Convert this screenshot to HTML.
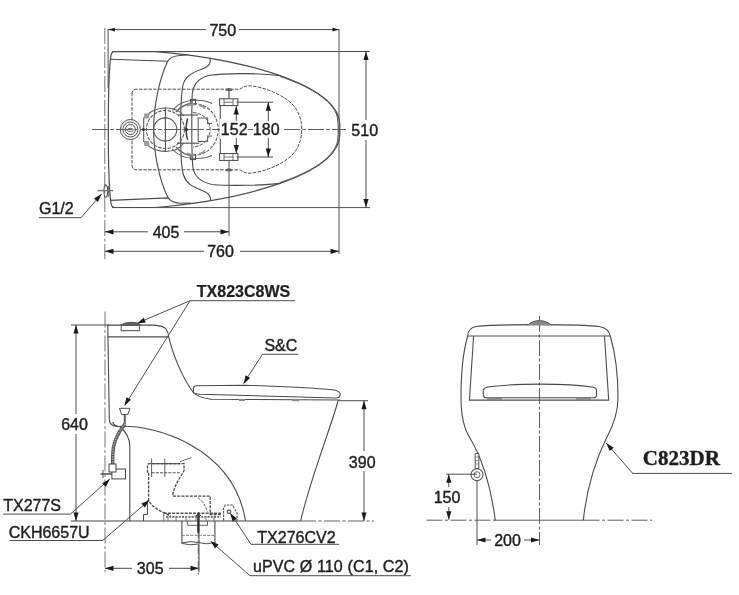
<!DOCTYPE html>
<html><head><meta charset="utf-8"><style>
html,body{margin:0;padding:0;background:#fff;width:739px;height:595px;overflow:hidden}
svg{display:block;will-change:transform}
</style></head><body>
<svg width="739" height="595" viewBox="0 0 739 595">
<rect width="739" height="595" fill="#fff"/>
<line x1="104.8" y1="28" x2="104.8" y2="259" stroke="#777" stroke-width="1" stroke-dasharray="16,2.5,3,2.5"/>
<line x1="92" y1="129.5" x2="346" y2="129.5" stroke="#5e5e5e" stroke-width="1" stroke-dasharray="16,2.5,3,2.5"/>
<path d="M114,207.5 Q110.7,206.5 110.7,200.5 C108.5,185 108.3,170 108.3,129.5 C108.3,89 108.5,74 110.7,57 Q111.5,51.6 114,51.6 L155,51.6 C246.7,59.3 346,86 339.6,129.5 C346,173 246.7,199.7 155,207.5 Z" stroke="#4a4a4a" stroke-width="1.2" fill="none" />
<path d="M280.2,76.6 C305,84.5 333,99 337.3,117 Q338.3,123 338.2,129.5 Q338.3,136 337.3,142 C333,160 305,174.5 280.2,182.4" stroke="#5e5e5e" stroke-width="1" fill="none" />
<path d="M110.6,59.3 L167.7,61.2 Q170.5,56.5 178,55.8 L188,54.8" stroke="#4a4a4a" stroke-width="1.1" fill="none" />
<path d="M110.6,200.4 L168.2,197.9 Q171,202.5 180,203.3 L191,203" stroke="#4a4a4a" stroke-width="1.1" fill="none" />
<path d="M167.7,61.2 C159,79 153.6,108 153.6,129.5 C153.6,151 159,180 168.2,197.9" stroke="#4a4a4a" stroke-width="1.1" fill="none" />
<path d="M209.8,58.5 C211.5,62 210,66.5 201.1,69.4 C193,72 185,76 183,85 C181,95 180.6,115 180.6,129.5 C180.6,150 181,168 183.5,175 C186,183 192,186.5 201,190 C209,193 210.5,196 210.9,200.5" stroke="#4a4a4a" stroke-width="1.1" fill="none" />
<path d="M281,75.6 C262,73.5 228,72.5 210,75.3 C199,77.5 193.5,83 192.2,94 C191.8,105 191.8,120 191.8,129.5 C191.8,145 192,160 193,168 C194.5,177 201,182 212,184.5 C230,186 262,185.5 281,183.4" stroke="#4a4a4a" stroke-width="1.1" fill="none" />
<path d="M132,94 Q132,89.2 137,89.2 L240,89.2 C243,87 246,85.5 250,85.8 C265,87 287,96 295.5,108 C301,117 301.7,123 301.7,129.5 C301.7,136 301,142 295.5,151 C287,163 265,172 250,173.2 C246,173.5 243,172 240,169.8 L137,169.8 Q132,169.8 132,165 Z" stroke="#4e4e4e" stroke-width="1" fill="none" stroke-dasharray="3.5,1.3"/>
<circle cx="130.4" cy="129.5" r="10" stroke="#4a4a4a" stroke-width="1" fill="#fff"/>
<circle cx="130.4" cy="129.5" r="7.5" stroke="#4a4a4a" stroke-width="1" fill="none"/>
<circle cx="130.4" cy="129.5" r="5" stroke="#4a4a4a" stroke-width="1" fill="none"/>
<ellipse cx="130.4" cy="130.0" rx="3" ry="1.6" stroke="#4a4a4a" stroke-width="0.8" fill="none"/>
<line x1="92" y1="129.5" x2="220" y2="129.5" stroke="#5e5e5e" stroke-width="1" stroke-dasharray="16,2.5,3,2.5"/>
<path d="M143.7,118 L143.7,141.5 L150,147 Q157,151.4 165.4,151.4 Q178,151.4 184,143 M143.7,118 L150,112.5 Q157,108 165.4,108 Q178,108 184,116" stroke="#5e5e5e" stroke-width="1.1" fill="none" />
<rect x="144.2" y="113.5" width="5" height="5" fill="#999"/>
<rect x="144.2" y="141" width="5" height="5" fill="#999"/>
<circle cx="165.4" cy="129.5" r="19" stroke="#5a5a5a" stroke-width="1.1" fill="none" stroke-dasharray="3.5,1.3"/>
<circle cx="165.2" cy="129.5" r="11.6" stroke="#5a5a5a" stroke-width="1.1" fill="none"/>
<line x1="165.4" y1="107.6" x2="165.4" y2="151.4" stroke="#4e4e4e" stroke-width="1.1" />
<circle cx="143.4" cy="129.5" r="1.5" fill="#333"/>
<path d="M172.4,110.3 C178,103 186,100.3 195.9,100.3 C203,100.3 208,101.5 212,103.5 M172.4,149 C178,156 186,158.5 195.9,158.5 C203,158.5 208,157.5 212,155.5" stroke="#5e5e5e" stroke-width="1.1" fill="none" />
<path d="M193.5,103.5 C208,104 218,115 218.2,129.7 C218,144 208,155 193.5,155.5" stroke="#5e5e5e" stroke-width="1.1" fill="none" stroke-dasharray="3.5,1.3"/>
<path d="M193,112.5 C203,113 210,120 210.2,129.7 C210,139 203,146.5 193,147" stroke="#5a5a5a" stroke-width="1" fill="none" stroke-dasharray="3.5,1.3"/>
<path d="M198.2,117.3 L198.2,142 M198.2,118 L207.6,118 L207.6,123.5 L212,123.5 M198.2,141.5 L207.6,141.5 L207.6,136 L212,136" stroke="#5e5e5e" stroke-width="1.1" fill="none" />
<path d="M187.6,118.5 Q184.5,129.7 187.6,139.7" stroke="#444" stroke-width="1.6" fill="none" />
<circle cx="186.5" cy="129.5" r="1.6" fill="#333"/>
<line x1="178.2" y1="115" x2="198.2" y2="115" stroke="#4e4e4e" stroke-width="1.1" />
<line x1="177" y1="143.2" x2="199.4" y2="143.2" stroke="#4e4e4e" stroke-width="1.1" />
<line x1="220.3" y1="103" x2="220.3" y2="156" stroke="#4e4e4e" stroke-width="1.1" />
<rect x="190.5" y="99.5" width="5" height="5" fill="none" stroke="#555" stroke-width="1.2"/>
<rect x="190.5" y="154.5" width="5" height="5" fill="none" stroke="#555" stroke-width="1.2"/>
<path d="M176,112 Q183,104 193,103 M176,147 Q183,155 193,156" stroke="#666" stroke-width="1.3" fill="none" />
<path d="M187,106 Q191,103.5 195,104.5 M199,105 Q203,106 205,108.5 M187,153 Q191,155.5 195,154.5 M199,154 Q203,153 205,150.5" stroke="#999" stroke-width="2" fill="none" />
<rect x="219.6" y="98.8" width="18.3" height="6.8" stroke="#444" stroke-width="1" fill="#fff"/>
<line x1="224" y1="98.8" x2="224" y2="105.6" stroke="#4e4e4e" stroke-width="0.8" />
<line x1="233" y1="98.8" x2="233" y2="105.6" stroke="#4e4e4e" stroke-width="0.8" />
<line x1="224" y1="102.2" x2="233" y2="102.2" stroke="#4e4e4e" stroke-width="0.8" />
<rect x="219.6" y="153.6" width="18.3" height="6.8" stroke="#444" stroke-width="1" fill="#fff"/>
<line x1="224" y1="153.6" x2="224" y2="160.4" stroke="#4e4e4e" stroke-width="0.8" />
<line x1="233" y1="153.6" x2="233" y2="160.4" stroke="#4e4e4e" stroke-width="0.8" />
<line x1="224" y1="157.0" x2="233" y2="157.0" stroke="#4e4e4e" stroke-width="0.8" />
<line x1="229" y1="88" x2="229" y2="98.8" stroke="#5e5e5e" stroke-width="1.3" />
<path d="M226.2,89.3 Q229,88 231.8,89.3 L231.8,90.5 L226.2,90.5 Z" stroke="#5e5e5e" stroke-width="1" fill="#666" />
<line x1="229" y1="160.4" x2="229" y2="236" stroke="#4e4e4e" stroke-width="1" />
<path d="M226.2,169.5 Q229,168 231.8,169.5 L231.8,170.8 L226.2,170.8 Z" stroke="#5e5e5e" stroke-width="1" fill="#666" />
<line x1="236.5" y1="102.2" x2="273" y2="102.2" stroke="#4a4a4a" stroke-width="1" />
<line x1="236.5" y1="157" x2="273" y2="157" stroke="#4a4a4a" stroke-width="1" />
<rect x="220" y="119" width="64" height="20" fill="#fff"/>
<text x="234.2" y="135.3" font-family="'Liberation Sans', sans-serif" font-size="16" font-weight="normal" text-anchor="middle" fill="#1e1e1e" stroke="#1e1e1e" stroke-width="0.4">152</text>
<text x="266.2" y="135.3" font-family="'Liberation Sans', sans-serif" font-size="16" font-weight="normal" text-anchor="middle" fill="#1e1e1e" stroke="#1e1e1e" stroke-width="0.4">180</text>
<line x1="236.3" y1="106" x2="236.3" y2="121" stroke="#4a4a4a" stroke-width="1" />
<line x1="236.3" y1="138" x2="236.3" y2="153.6" stroke="#4a4a4a" stroke-width="1" />
<path d="M236.3,106.0 L238.9,114.5 L233.7,114.5 Z" fill="#1a1a1a"/>
<path d="M236.3,153.6 L233.7,145.1 L238.9,145.1 Z" fill="#1a1a1a"/>
<line x1="268.3" y1="102.2" x2="268.3" y2="121" stroke="#4a4a4a" stroke-width="1" />
<line x1="268.3" y1="138" x2="268.3" y2="157" stroke="#4a4a4a" stroke-width="1" />
<path d="M268.3,102.2 L270.9,110.7 L265.7,110.7 Z" fill="#1a1a1a"/>
<path d="M268.3,157.0 L265.7,148.5 L270.9,148.5 Z" fill="#1a1a1a"/>
<line x1="247.5" y1="129.5" x2="253" y2="129.5" stroke="#5e5e5e" stroke-width="1" />
<line x1="284" y1="129.5" x2="346" y2="129.5" stroke="#5e5e5e" stroke-width="1" stroke-dasharray="16,2.5,3,2.5"/>
<line x1="108.1" y1="29" x2="108.1" y2="88" stroke="#4e4e4e" stroke-width="1" />
<line x1="339" y1="29" x2="339" y2="254" stroke="#4e4e4e" stroke-width="1" />
<line x1="108.4" y1="29.6" x2="339" y2="29.6" stroke="#4a4a4a" stroke-width="1" />
<path d="M108.4,29.6 L114.9,27.8 L114.9,31.4 Z" fill="#1a1a1a"/>
<path d="M339.0,29.6 L332.5,31.4 L332.5,27.8 Z" fill="#1a1a1a"/>
<rect x="206" y="20" width="33" height="18" fill="#fff"/>
<text x="222.8" y="35.5" font-family="'Liberation Sans', sans-serif" font-size="16" font-weight="normal" text-anchor="middle" fill="#1e1e1e" stroke="#1e1e1e" stroke-width="0.4">750</text>
<line x1="112" y1="51.5" x2="370" y2="51.5" stroke="#4e4e4e" stroke-width="1" />
<line x1="112" y1="207.6" x2="370" y2="207.6" stroke="#4e4e4e" stroke-width="1" />
<line x1="366" y1="51.5" x2="366" y2="207.6" stroke="#4a4a4a" stroke-width="1" />
<path d="M366.0,51.5 L368.6,60.0 L363.4,60.0 Z" fill="#1a1a1a"/>
<path d="M366.0,207.6 L363.4,199.1 L368.6,199.1 Z" fill="#1a1a1a"/>
<rect x="350" y="120" width="30" height="20" fill="#fff"/>
<text x="364.7" y="135.5" font-family="'Liberation Sans', sans-serif" font-size="16" font-weight="normal" text-anchor="middle" fill="#1e1e1e" stroke="#1e1e1e" stroke-width="0.4">510</text>
<line x1="105" y1="231.8" x2="229" y2="231.8" stroke="#4a4a4a" stroke-width="1" />
<path d="M105.0,231.8 L113.5,229.2 L113.5,234.4 Z" fill="#1a1a1a"/>
<path d="M229.0,231.8 L220.5,234.4 L220.5,229.2 Z" fill="#1a1a1a"/>
<rect x="148" y="222" width="36" height="20" fill="#fff"/>
<text x="166" y="237.5" font-family="'Liberation Sans', sans-serif" font-size="16" font-weight="normal" text-anchor="middle" fill="#1e1e1e" stroke="#1e1e1e" stroke-width="0.4">405</text>
<line x1="105" y1="251.3" x2="339" y2="251.3" stroke="#4a4a4a" stroke-width="1" />
<path d="M105.0,251.3 L113.5,248.7 L113.5,253.9 Z" fill="#1a1a1a"/>
<path d="M339.0,251.3 L330.5,253.9 L330.5,248.7 Z" fill="#1a1a1a"/>
<rect x="204" y="242" width="36" height="20" fill="#fff"/>
<text x="220.5" y="257" font-family="'Liberation Sans', sans-serif" font-size="16" font-weight="normal" text-anchor="middle" fill="#1e1e1e" stroke="#1e1e1e" stroke-width="0.4">760</text>
<text x="39" y="214.2" font-family="'Liberation Sans', sans-serif" font-size="16" font-weight="normal" text-anchor="start" fill="#1e1e1e" stroke="#1e1e1e" stroke-width="0.4">G1/2</text>
<line x1="39" y1="217.7" x2="81" y2="217.7" stroke="#4e4e4e" stroke-width="1" />
<line x1="81" y1="217.7" x2="101.6" y2="194" stroke="#4e4e4e" stroke-width="1" />
<path d="M101.6,194.0 L97.9,202.1 L94.0,198.6 Z" fill="#1a1a1a"/>
<ellipse cx="105.8" cy="191" rx="1.8" ry="6.3" stroke="#555" stroke-width="1.1" fill="none"/>
<line x1="97.5" y1="190.6" x2="113" y2="190.6" stroke="#777" stroke-width="1.4" />
<path d="M104.5,184.5 L107.5,187 M108.4,186 L108.4,197" stroke="#666" stroke-width="1" fill="none" />
<line x1="105" y1="311.5" x2="105" y2="572" stroke="#777" stroke-width="1" stroke-dasharray="16,2.5,3,2.5"/>
<path d="M118,426.5 Q109.3,426.5 109.3,419 L107.8,325.1 L153.5,325.1 C160,325.5 164,326.5 166,329 Q168.3,332 168.7,336.7 C172,352 182,378 193.4,392.5 Q198,397.5 211,399.3 L340,400" stroke="#4a4a4a" stroke-width="1.1" fill="none" />
<line x1="107.8" y1="336.9" x2="168.7" y2="336.9" stroke="#4e4e4e" stroke-width="1.1" />
<path d="M121.2,325.5 L121.2,330.6 L139.5,330.6 L139.5,325.5" stroke="#666" stroke-width="1.1" fill="none" />
<path d="M120.5,325.3 Q124,322.5 131,322.3 Q137,322.2 140,324.3 L140,325.3 Z" stroke="#555" stroke-width="1" fill="#666" />
<path d="M193.4,392.5 L193.4,388 Q193.6,385.8 197,385.8 L245,385.2 C290,386.5 320,388.5 334,390 Q339.9,391 340.2,394.5 Q340,398 336,398 L200,394.3 Q194,393.8 193.4,392.5 Z" stroke="#4a4a4a" stroke-width="1.1" fill="none" />
<rect x="239" y="399" width="6" height="2" fill="#888"/><rect x="292" y="399.2" width="7" height="2" fill="#888"/>
<path d="M338,401 C330,430 310,480 300.6,521" stroke="#4a4a4a" stroke-width="1.1" fill="none" />
<path d="M112.7,422 Q114,426.5 119,426.5 M118,426.5 C154,424 233.6,446.8 245.5,521" stroke="#4a4a4a" stroke-width="1.1" fill="none" />
<path d="M120,426.5 C125,431 129.8,438 129.8,446 L129.8,521" stroke="#4a4a4a" stroke-width="1.1" fill="none" />
<line x1="70.7" y1="521" x2="300" y2="521" stroke="#444" stroke-width="1.1" />
<line x1="300" y1="521" x2="374" y2="521" stroke="#5e5e5e" stroke-width="1" stroke-dasharray="16,2.5,3,2.5"/>
<line x1="71" y1="325" x2="109" y2="325" stroke="#4e4e4e" stroke-width="1" />
<line x1="338" y1="400.7" x2="368" y2="400.7" stroke="#4e4e4e" stroke-width="1" />
<line x1="76" y1="325" x2="76" y2="521" stroke="#4a4a4a" stroke-width="1" />
<path d="M76.0,325.0 L78.6,333.5 L73.4,333.5 Z" fill="#1a1a1a"/>
<path d="M76.0,521.0 L73.4,512.5 L78.6,512.5 Z" fill="#1a1a1a"/>
<rect x="60" y="414" width="30" height="20" fill="#fff"/>
<text x="74.5" y="429.5" font-family="'Liberation Sans', sans-serif" font-size="16" font-weight="normal" text-anchor="middle" fill="#1e1e1e" stroke="#1e1e1e" stroke-width="0.4">640</text>
<line x1="364" y1="400.7" x2="364" y2="521" stroke="#4a4a4a" stroke-width="1" />
<path d="M364.0,400.7 L366.6,409.2 L361.4,409.2 Z" fill="#1a1a1a"/>
<path d="M364.0,521.0 L361.4,512.5 L366.6,512.5 Z" fill="#1a1a1a"/>
<rect x="347" y="451" width="32" height="20" fill="#fff"/>
<text x="362.2" y="467.5" font-family="'Liberation Sans', sans-serif" font-size="16" font-weight="normal" text-anchor="middle" fill="#1e1e1e" stroke="#1e1e1e" stroke-width="0.4">390</text>
<line x1="199" y1="512" x2="199" y2="572" stroke="#4e4e4e" stroke-width="1" />
<line x1="105" y1="568.3" x2="199" y2="568.3" stroke="#4a4a4a" stroke-width="1" />
<path d="M105.0,568.3 L113.5,565.7 L113.5,570.9 Z" fill="#1a1a1a"/>
<path d="M199.0,568.3 L190.5,570.9 L190.5,565.7 Z" fill="#1a1a1a"/>
<rect x="132" y="558" width="37" height="20" fill="#fff"/>
<text x="150.2" y="574" font-family="'Liberation Sans', sans-serif" font-size="16" font-weight="normal" text-anchor="middle" fill="#1e1e1e" stroke="#1e1e1e" stroke-width="0.4">305</text>
<path d="M119.5,408.3 L130,408.3 L127.8,414.6 L121.7,414.6 Z" stroke="#4e4e4e" stroke-width="1" fill="#fff" />
<line x1="124.8" y1="414.6" x2="124.8" y2="424" stroke="#5e5e5e" stroke-width="2" />
<path d="M124.8,424 C120,430 112.7,440 112.7,455 L112.7,464" stroke="#555" stroke-width="3.4" fill="none" />
<path d="M124.8,424 C120,430 112.7,440 112.7,455 L112.7,464" stroke="#aaa" stroke-width="1.4" fill="none" stroke-dasharray="1.5,1"/>
<rect x="111.9" y="469" width="13.6" height="9.9" stroke="#444" stroke-width="1" fill="#fff"/>
<rect x="109" y="464" width="7" height="8" stroke="#444" stroke-width="1" fill="#fff"/>
<line x1="100.6" y1="474" x2="111.9" y2="474" stroke="#4e4e4e" stroke-width="1.5" />
<line x1="103" y1="470" x2="103" y2="478" stroke="#4e4e4e" stroke-width="1" />
<path d="M147.5,472.8 L147.5,465.5 Q147.5,463.7 149.5,463.7 L184,463.7 L184,470.8 C180,478 175,484 172.9,494.2 L172.9,496.2 L210.2,496.2 L210.2,514.5 L220.9,514.5" stroke="#4a4a4a" stroke-width="1.3" fill="none" stroke-dasharray="3,1.2"/>
<path d="M148.6,472.8 L148.6,500.2 C151,506 160,512 170.9,515.5" stroke="#4a4a4a" stroke-width="1.3" fill="none" stroke-dasharray="3,1.2"/>
<path d="M151.6,472.8 L180,472.8" stroke="#4e4e4e" stroke-width="1" fill="none" stroke-dasharray="3,1.2"/>
<line x1="151.6" y1="463.7" x2="180" y2="463.7" stroke="#4e4e4e" stroke-width="1.1" />
<line x1="151.6" y1="458.6" x2="151.6" y2="476.9" stroke="#4e4e4e" stroke-width="0.9" />
<line x1="164.8" y1="458.6" x2="164.8" y2="476.9" stroke="#4e4e4e" stroke-width="0.9" />
<line x1="180" y1="461.7" x2="191.2" y2="457.6" stroke="#5e5e5e" stroke-width="0.9" />
<path d="M147.5,500.2 L147.5,514.5 L143.5,514.5 L143.5,521" stroke="#4e4e4e" stroke-width="1" fill="none" />
<path d="M198,497.7 C202,501 205,504 207.5,512" stroke="#5e5e5e" stroke-width="1" fill="none" stroke-dasharray="3,1.2"/>
<line x1="163.7" y1="513.2" x2="220.9" y2="513.2" stroke="#555" stroke-width="1.4" stroke-dasharray="3,1.2"/>
<line x1="166" y1="516.8" x2="220.9" y2="516.8" stroke="#666" stroke-width="1.8" stroke-dasharray="2,1.2"/>
<path d="M163.7,521 L163.7,514 M168,521 L168,515 M176,521 L176,516 M186,521 L186,516 M196,521 L196,516 M206,521 L206,516 M214,521 L214,516" stroke="#777" stroke-width="1" fill="none" />
<path d="M181.9,521 L181.9,543.4 M214.9,521 L214.9,543.4" stroke="#4e4e4e" stroke-width="1.1" fill="none" />
<path d="M181.9,543 Q190,540.5 198.3,542.5 Q206,545 214.9,542.5 M181.9,543.4 Q190,546 198.3,544" stroke="#4e4e4e" stroke-width="1" fill="none" />
<line x1="181.9" y1="535.4" x2="214.9" y2="535.4" stroke="#777" stroke-width="0.9" stroke-dasharray="3,1.2"/>
<path d="M187.3,521 L187.3,525.3 L207.5,525.3 L207.5,521" stroke="#4e4e4e" stroke-width="0.9" fill="none" />
<line x1="198.3" y1="512.5" x2="198.3" y2="575" stroke="#555" stroke-width="1" stroke-dasharray="10,2,2,2"/>
<line x1="198.3" y1="513" x2="198.3" y2="532.7" stroke="#333" stroke-width="2.2" />
<line x1="195.5" y1="515.5" x2="201" y2="515.5" stroke="#444" stroke-width="1.2" />
<path d="M223.6,520.6 L223.6,508 L225.3,505 L232.5,505 L233.8,507.5 L237.1,513 L237.1,520.6" stroke="#4e4e4e" stroke-width="1.1" fill="none" stroke-dasharray="2.5,1"/>
<circle cx="229" cy="511.8" r="1.7" stroke="#444" stroke-width="1.1" fill="none"/>
<text x="196.8" y="297.2" font-family="'Liberation Sans', sans-serif" font-size="16" font-weight="bold" text-anchor="start" fill="#1e1e1e" stroke="#1e1e1e" stroke-width="0.2">TX823C8WS</text>
<line x1="190" y1="300.7" x2="295" y2="300.7" stroke="#4e4e4e" stroke-width="1" />
<line x1="190" y1="300.7" x2="140" y2="322" stroke="#4e4e4e" stroke-width="1" />
<path d="M137.0,323.5 L143.7,317.7 L145.8,322.4 Z" fill="#1a1a1a"/>
<line x1="190" y1="300.7" x2="125" y2="405" stroke="#4e4e4e" stroke-width="1" />
<path d="M124.5,406.0 L126.4,397.3 L130.9,399.8 Z" fill="#1a1a1a"/>
<text x="264.4" y="351.3" font-family="'Liberation Sans', sans-serif" font-size="16" font-weight="normal" text-anchor="start" fill="#1e1e1e" stroke="#1e1e1e" stroke-width="0.4">S&amp;C</text>
<line x1="262.5" y1="354.3" x2="298.3" y2="354.3" stroke="#4e4e4e" stroke-width="1" />
<line x1="262.5" y1="354.3" x2="243.6" y2="383.3" stroke="#4e4e4e" stroke-width="1" />
<path d="M243.6,384.0 L245.6,375.3 L250.1,377.9 Z" fill="#1a1a1a"/>
<text x="3.2" y="511" font-family="'Liberation Sans', sans-serif" font-size="16" font-weight="normal" text-anchor="start" fill="#1e1e1e" stroke="#1e1e1e" stroke-width="0.4">TX277S</text>
<line x1="3" y1="514.1" x2="70.5" y2="514.1" stroke="#4e4e4e" stroke-width="1" />
<line x1="70.5" y1="514.1" x2="109.6" y2="479" stroke="#4e4e4e" stroke-width="1" />
<path d="M110.0,479.0 L105.8,486.8 L102.2,483.2 Z" fill="#1a1a1a"/>
<text x="8.7" y="537.7" font-family="'Liberation Sans', sans-serif" font-size="16" font-weight="normal" text-anchor="start" fill="#1e1e1e" stroke="#1e1e1e" stroke-width="0.4">CKH6657U</text>
<line x1="9.7" y1="540.5" x2="102.8" y2="540.5" stroke="#4e4e4e" stroke-width="1" />
<line x1="102.8" y1="540.4" x2="148.8" y2="500.6" stroke="#4e4e4e" stroke-width="1" />
<path d="M149.5,500.0 L144.8,507.5 L141.4,503.6 Z" fill="#1a1a1a"/>
<text x="257.3" y="542.6" font-family="'Liberation Sans', sans-serif" font-size="16" font-weight="normal" text-anchor="start" fill="#1e1e1e" stroke="#1e1e1e" stroke-width="0.4">TX276CV2</text>
<line x1="251" y1="544.3" x2="339" y2="544.3" stroke="#4e4e4e" stroke-width="1" />
<line x1="251" y1="544.3" x2="231" y2="513.8" stroke="#4e4e4e" stroke-width="1" />
<path d="M230.0,513.0 L237.0,518.5 L232.7,521.5 Z" fill="#1a1a1a"/>
<text textLength="156" lengthAdjust="spacing" x="252.9" y="572.4" font-family="'Liberation Sans', sans-serif" font-size="16" font-weight="normal" text-anchor="start" fill="#1e1e1e" stroke="#1e1e1e" stroke-width="0.4">uPVC Ø 110 (C1, C2)</text>
<line x1="250" y1="575.7" x2="410.9" y2="575.7" stroke="#4e4e4e" stroke-width="1" />
<line x1="250" y1="575.7" x2="211.5" y2="542" stroke="#4e4e4e" stroke-width="1" />
<path d="M210.5,541.0 L218.6,544.6 L215.2,548.5 Z" fill="#1a1a1a"/>
<line x1="539.5" y1="316" x2="539.5" y2="545" stroke="#5e5e5e" stroke-width="1" stroke-dasharray="16,2.5,3,2.5"/>
<line x1="426.5" y1="520.2" x2="495" y2="520.2" stroke="#5e5e5e" stroke-width="1" stroke-dasharray="16,2.5,3,2.5"/>
<line x1="495" y1="520.2" x2="583.5" y2="520.2" stroke="#5e5e5e" stroke-width="1" />
<line x1="583.5" y1="520.2" x2="652" y2="520.2" stroke="#5e5e5e" stroke-width="1" stroke-dasharray="16,2.5,3,2.5"/>
<path d="M467.7,336 Q468,328 476.1,326.5 C500,324 580,324 600.3,326.7 Q608.7,328.5 610.3,336" stroke="#4a4a4a" stroke-width="1.1" fill="none" />
<line x1="467.7" y1="336" x2="610.3" y2="336" stroke="#4e4e4e" stroke-width="1.1" />
<path d="M473.6,336 L469.4,400.1 L608.7,400.1 L604.5,336" stroke="#4e4e4e" stroke-width="1.1" fill="none" />
<path d="M467.7,336 C463,352 461,375 461,398 C461,416 463.5,428 470,438 C480,455 490,480 495.3,520.5" stroke="#4a4a4a" stroke-width="1.1" fill="none" />
<path d="M610.3,336 C615,352 618,375 618,398 C618,412 614,424 607,437 C598,455 587,485 583.3,520.5" stroke="#4a4a4a" stroke-width="1.1" fill="none" />
<path d="M527.6,325.2 Q532,320.8 539.5,320.6 Q547,320.8 551.4,325.2" stroke="#5e5e5e" stroke-width="1" fill="#888" />
<path d="M483.3,395.5 L483.3,390 Q483.8,388 486.5,387.2 C500,385.2 520,384.2 540,384.1 C560,384.2 580,385.2 593.5,387.2 Q596.2,388 596.5,390 L596.5,395.5 Q596.3,397.8 593.5,397.8 L486.3,397.8 Q483.5,397.8 483.3,395.5 Z" stroke="#4a4a4a" stroke-width="1.1" fill="none" />
<rect x="487" y="398" width="15" height="2.4" fill="#8a8a8a"/><rect x="576" y="398" width="15" height="2.4" fill="#8a8a8a"/>
<circle cx="477" cy="474.7" r="6" stroke="#555" stroke-width="1.1" fill="#fff"/>
<circle cx="477" cy="474.7" r="3" stroke="#666" stroke-width="1" fill="none"/>
<path d="M475.2,453.5 L478.8,453.5 L478.8,468.5 L475.2,468.5 Z" stroke="#4e4e4e" stroke-width="1" fill="#fff" />
<path d="M475.2,457 L478.8,457 M475.2,460.5 L478.8,460.5 M475.2,464 L478.8,464" stroke="#777" stroke-width="0.8" fill="none" />
<line x1="446.2" y1="474.2" x2="477" y2="474.2" stroke="#4e4e4e" stroke-width="1" />
<line x1="448.8" y1="474.2" x2="448.8" y2="519.7" stroke="#4a4a4a" stroke-width="1" />
<path d="M448.8,474.2 L451.4,482.7 L446.2,482.7 Z" fill="#1a1a1a"/>
<path d="M448.8,519.7 L446.2,511.2 L451.4,511.2 Z" fill="#1a1a1a"/>
<rect x="432" y="487" width="32" height="20" fill="#fff"/>
<text x="447" y="503" font-family="'Liberation Sans', sans-serif" font-size="16" font-weight="normal" text-anchor="middle" fill="#1e1e1e" stroke="#1e1e1e" stroke-width="0.4">150</text>
<line x1="477" y1="480" x2="477" y2="545" stroke="#4e4e4e" stroke-width="1" />
<line x1="477" y1="540" x2="539.5" y2="540" stroke="#4a4a4a" stroke-width="1" />
<path d="M477.0,540.0 L485.5,537.4 L485.5,542.6 Z" fill="#1a1a1a"/>
<path d="M539.5,540.0 L531.0,542.6 L531.0,537.4 Z" fill="#1a1a1a"/>
<rect x="491" y="530" width="33" height="20" fill="#fff"/>
<text x="507.5" y="545.8" font-family="'Liberation Sans', sans-serif" font-size="16" font-weight="normal" text-anchor="middle" fill="#1e1e1e" stroke="#1e1e1e" stroke-width="0.4">200</text>
<text x="642.8" y="464.8" font-family="'Liberation Serif', serif" font-size="21" font-weight="bold" text-anchor="start" fill="#1e1e1e" stroke="#1e1e1e" stroke-width="0.4">C823DR</text>
<line x1="632.3" y1="473.4" x2="732.1" y2="473.4" stroke="#4e4e4e" stroke-width="1" />
<line x1="632.6" y1="473.2" x2="606.2" y2="443" stroke="#4e4e4e" stroke-width="1" />
<path d="M606.2,443.0 L613.8,447.7 L609.8,451.1 Z" fill="#1a1a1a"/>
</svg>
</body></html>
